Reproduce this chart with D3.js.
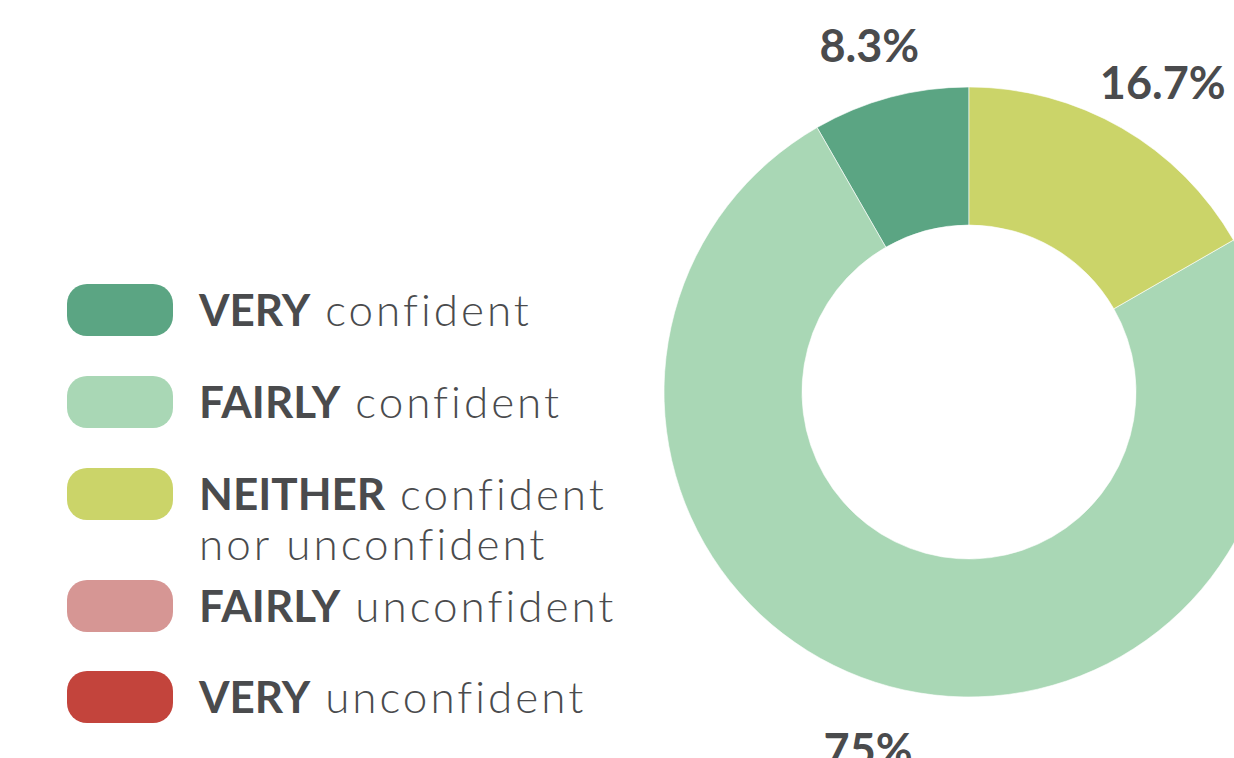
<!DOCTYPE html>
<html>
<head>
    <meta charset="utf-8" />
    <title>Confidence donut</title>
    <script src="https://d3js.org/d3.v7.min.js"></script>
    <style>
        body { margin: 0; background: #fff; }
        text { font-family: Lato, "Open Sans", sans-serif; fill: #4a4b4d; }
        .light { font-weight: 300; letter-spacing: 3px; }
    </style>
</head>
<body>
    <svg width="1234" height="758"></svg>
    <script>
        // data
        const categories = ["VERY confident", "FAIRLY confident", "NEITHER confident", "FAIRLY unconfident", "VERY unconfident"];
        const boldWords = ["VERY", "FAIRLY", "NEITHER", "FAIRLY", "VERY"];
        const restWords = [["confident"], ["confident"], ["confident", "nor unconfident"], ["unconfident"], ["unconfident"]];
        const values = [8.3, 75, 16.7, 0, 0];
        const labels = ["8.3%", "75%", "16.7%", "", ""];
        const colors = ["#5ba583", "#a9d7b5", "#cbd469", "#d69694", "#c3443c"];
        // clockwise drawing order starting at 12 o'clock
        const drawOrder = ["NEITHER confident", "FAIRLY confident", "VERY confident", "FAIRLY unconfident", "VERY unconfident"];

        const data = categories.map((c, i) => ({ key: c, value: values[i], label: labels[i] }));

        const svg = d3.select("svg");
        const cx = 969, cy = 392;
        const outerR = 305, innerR = 167, labelR = 372;

        const color = d3.scaleOrdinal().domain(categories).range(colors);

        const pie = d3.pie()
            .value(d => d.value)
            .sort((a, b) => drawOrder.indexOf(a.key) - drawOrder.indexOf(b.key));
        const arc = d3.arc().innerRadius(innerR).outerRadius(outerR);
        const labelArc = d3.arc().innerRadius(labelR).outerRadius(labelR);

        const g = svg.append("g").attr("transform", "translate(" + cx + "," + cy + ")");
        const arcs = pie(data).filter(d => d.data.value > 0);

        g.selectAll("path")
            .data(arcs)
            .enter()
            .append("path")
            .attr("d", arc)
            .attr("fill", d => color(d.data.key))
            .attr("stroke", "#ffffff")
            .attr("stroke-width", 0.6);

        // labels sit a little below the centroid on the upper half
        g.selectAll(".pct")
            .data(arcs)
            .enter()
            .append("text")
            .attr("class", "pct")
            .attr("transform", d => {
                const c = labelArc.centroid(d);
                return "translate(" + (c[0] * 1.04) + "," + (c[1] * 0.98 + 6) + ")";
            })
            .attr("text-anchor", "middle")
            .attr("dy", "0.36em")
            .style("font-size", "45px")
            .style("font-weight", 700)
            .text(d => d.data.label);

        // legend
        const rowY = [310, 402, 494, 606, 697];
        const legend = svg.append("g").attr("transform", "translate(67,0)");
        const item = legend.selectAll(".legend-item")
            .data(categories)
            .enter()
            .append("g")
            .attr("class", "legend-item")
            .attr("transform", (d, i) => "translate(0," + rowY[i] + ")");

        item.append("rect")
            .attr("x", 0)
            .attr("y", -26)
            .attr("width", 106)
            .attr("height", 52)
            .attr("rx", 20)
            .attr("fill", d => color(d));

        item.each(function (d, i) {
            const t = d3.select(this).append("text")
                .attr("x", 132)
                .attr("y", 16)
                .style("font-size", "44px");
            t.append("tspan").style("font-weight", 700).text(boldWords[i]);
            t.append("tspan").attr("class", "light").text(" " + restWords[i][0]);
            for (let k = 1; k < restWords[i].length; k++) {
                d3.select(this).append("text")
                    .attr("class", "light")
                    .attr("x", 132)
                    .attr("y", 16 + 50 * k)
                    .style("font-size", "44px")
                    .text(restWords[i][k]);
            }
        });
    </script>
</body>
</html>
